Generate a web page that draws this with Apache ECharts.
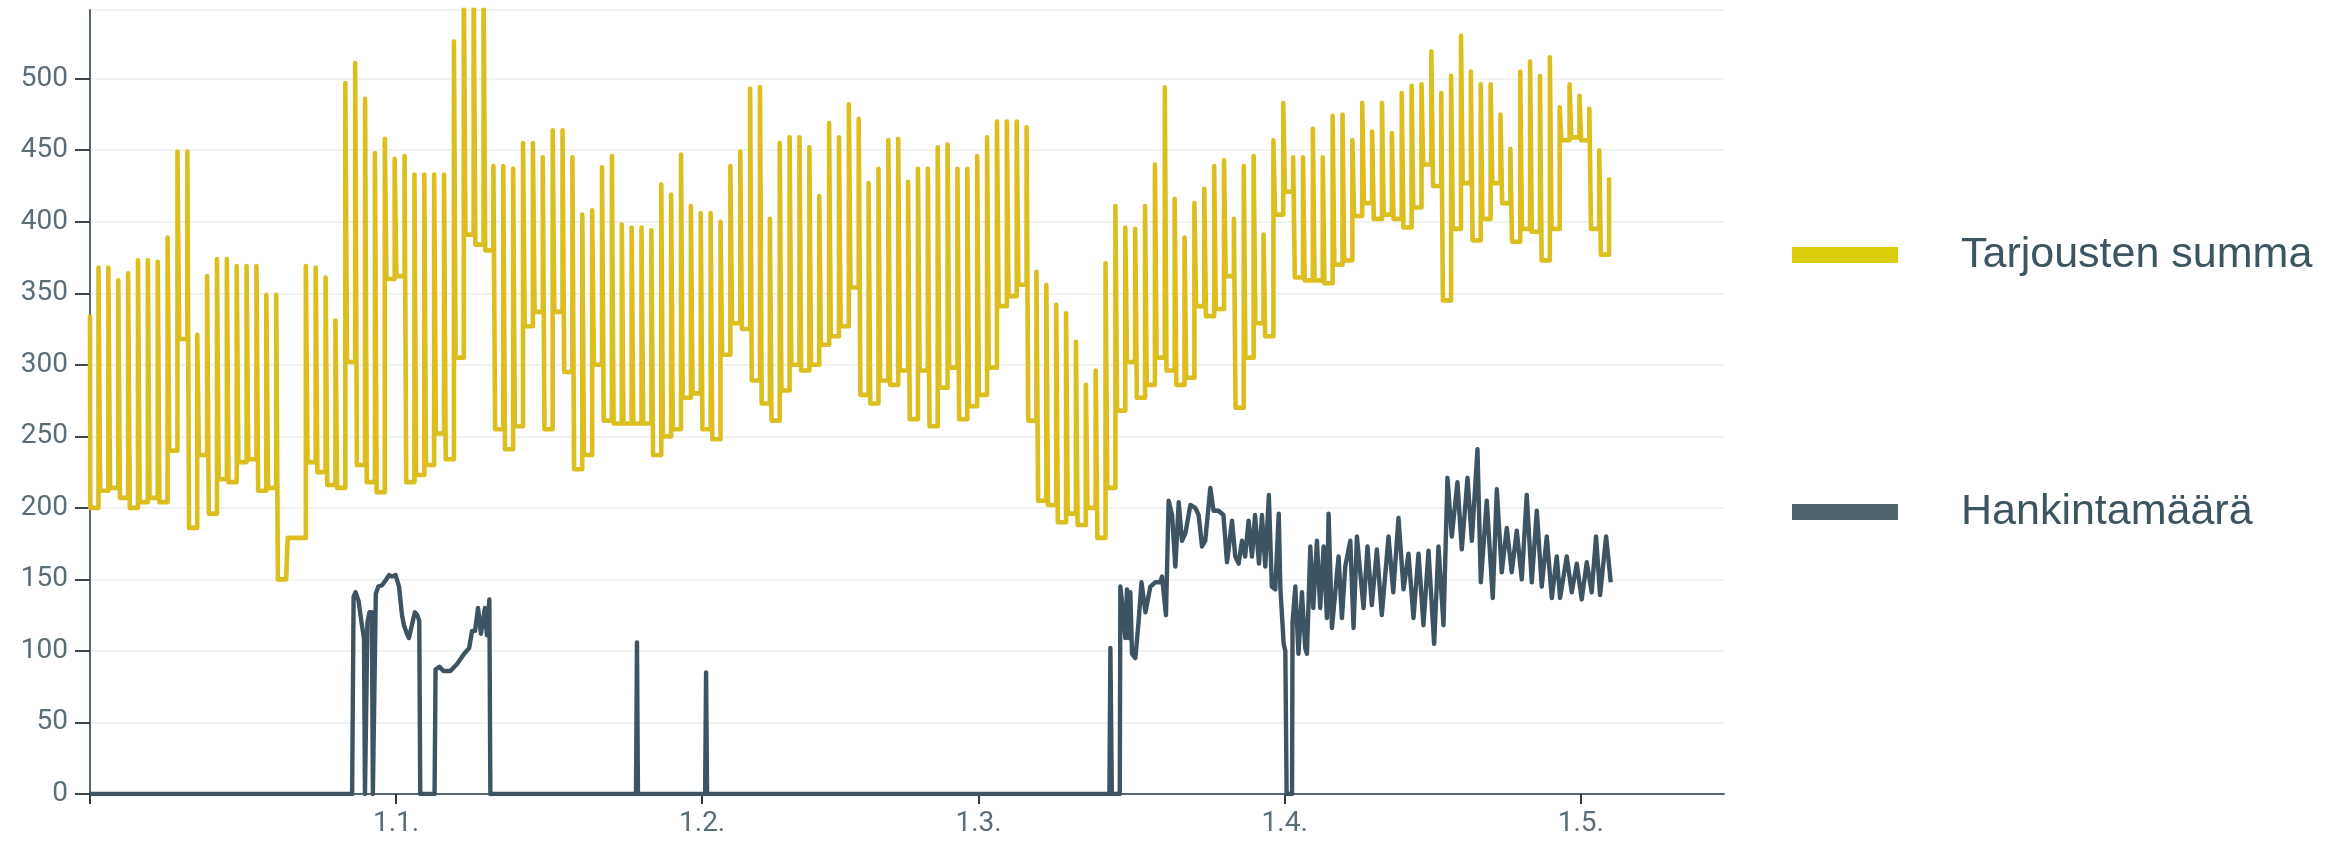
<!DOCTYPE html>
<html><head><meta charset="utf-8">
<script src="https://cdn.jsdelivr.net/npm/echarts@6/dist/echarts.min.js"></script>
<style>html,body{margin:0;padding:0;background:#fff}#c{width:2343px;height:842px}</style>
</head><body><div id="c"></div>
<script>
// ---- data ----
const seriesNames = ['Tarjousten summa', 'Hankintamäärä'];
const startDate = '2022-12-01';
const tickDates = ['2023-01-01', '2023-02-01', '2023-03-01', '2023-04-01', '2023-05-01'];
const tickLabels = ['1.1.', '1.2.', '1.3.', '1.4.', '1.5.'];

// Tarjousten summa: first value, then per day (from 1.12.) the base level and the daily peak
const tarjStart = 335;
const tarjLow = [200,212,214,207,200,204,207,204,240,318,186,237,196,220,218,232,234,212,214,150,
  179,179,232,225,216,214,302,230,218,211,360,362,218,223,230,252,234,305,391,384,
  380,255,241,257,327,337,255,337,295,227,237,300,261,259,259,259,259,237,250,255,
  277,280,255,248,307,329,325,289,273,261,282,300,296,300,314,320,327,354,279,273,
  289,286,296,262,296,257,284,298,262,271,279,298,341,348,356,261,205,202,190,196,
  188,200,179,214,268,302,277,286,305,296,286,291,341,334,339,362,270,305,329,320,
  405,421,361,359,359,357,370,373,404,413,402,405,402,396,410,440,425,345,395,427,
  387,402,427,413,386,395,393,373,395,457,459,457,395,377];
const tarjPeak = [368,368,359,364,373,373,372,389,449,449,321,362,374,374,369,369,369,349,349,150,
  179,369,368,361,331,497,511,486,448,458,444,446,433,433,433,433,526,570,570,570,
  439,439,437,455,455,445,464,464,445,405,408,438,446,398,396,396,394,426,419,447,
  411,406,406,400,439,449,493,494,402,455,459,459,452,418,469,459,482,472,427,437,
  457,458,428,437,437,452,454,437,437,446,459,470,470,470,466,365,356,342,336,316,
  286,296,371,411,396,395,411,440,494,416,389,413,423,439,443,402,439,446,391,457,
  483,445,445,465,445,474,475,457,483,463,483,462,490,495,496,519,490,502,530,505,
  496,496,475,451,505,512,502,515,480,496,488,479,450,431];

// Hankintamäärä: day offset from 1.12. and value
const hankDays = [0,26.55,26.7,26.9,27.2,27.5,27.75,27.85,28.0,28.1,28.3,28.55,28.65,28.85,28.95,29.2,29.6,30.0,30.3,30.6,
  30.95,31.3,31.6,31.8,32.1,32.3,32.6,32.9,33.15,33.35,33.45,
  34.9,35.0,35.4,35.8,36.5,37.2,37.9,38.4,38.7,39.0,39.3,39.6,40.0,40.2,40.45,40.55,
  55.3,55.4,55.5,62.3,62.4,62.5,103.25,103.35,103.5,
  104.3,104.36,104.7,104.86,105.03,105.2,105.37,105.54,105.88,106.2,106.5,106.9,107.4,107.9,108.4,108.58,108.98,
  109.25,109.6,109.93,110.27,110.6,110.94,111.45,111.95,112.29,112.63,112.96,113.47,113.8,114.3,114.8,115.16,
  115.67,116.0,116.34,116.68,117.0,117.35,117.69,118.0,118.4,118.7,119.04,119.4,119.7,120.05,120.4,120.56,
  120.9,121.07,121.2,121.75,121.8,122.08,122.4,122.75,123.09,123.26,123.6,123.9,124.27,124.6,124.95,125.28,
  125.45,125.79,126.13,126.46,126.8,127.14,127.65,127.98,128.32,128.99,129.39,129.83,130.34,130.84,131.52,
  132.0,132.53,133.04,133.54,134.05,134.56,135.06,135.57,136.14,136.58,137.09,137.49,137.93,138.5,138.94,
  139.52,139.96,140.53,140.87,141.47,142.08,142.49,142.99,143.5,144.0,144.51,145.02,145.52,146.03,146.54,
  147.04,147.55,148.06,148.56,148.9,149.57,150.08,150.59,151.09,151.6,152.1,152.54,152.95,153.56,154.03];
const hankValues = [0,0,138,141,135,120,109,0,0,120,127,127,0,0,140,145,146,150,153,152,
  153,145,125,118,112,109,118,127,125,121,0,
  0,87,89,86,86,91,98,102,114,114,130,112,130,111,136,0,
  0,106,0,0,85,0,0,102,0,
  0,145,123,109,143,109,141,98,95,120,148,127,145,148,148,152,125,
  205,195,159,204,177,182,202,200,195,173,177,214,198,198,195,162,
  191,166,161,177,166,191,166,195,161,195,159,209,145,143,196,145,
  105,100,0,0,120,145,98,141,102,98,173,130,177,130,173,123,
  196,116,141,166,123,159,177,116,180,130,173,132,171,125,180,
  141,193,143,168,123,168,118,170,105,173,118,221,180,218,171,
  221,177,241,148,205,137,213,155,186,155,184,150,209,148,198,
  145,180,137,166,137,166,141,161,136,162,141,180,139,180,148];

// ---- build ----
const DAY = 86400000;
const t0 = Date.parse(startDate + 'T00:00:00Z');
const dayOf = s => (Date.parse(s + 'T00:00:00Z') - t0) / DAY;
const tickDays = tickDates.map(dayOf);

const tarjData = [[0, tarjStart]];
tarjLow.forEach((v, i) => {
  tarjData.push([i + 0.03, v]);
  tarjData.push([i + 0.86, tarjPeak[i]]);
});
const hankData = hankDays.map((d, i) => [d, hankValues[i]]);

const axisColor = '#56676f';
const labelColor = '#5b6d77';
const chart = echarts.init(document.getElementById('c'));
chart.setOption({
  animation: false,
  backgroundColor: '#ffffff',
  grid: { left: 90, right: 619, top: 10, bottom: 48 },
  legend: {
    orient: 'vertical', left: 1787, top: 225,
    itemWidth: 106, itemHeight: 16, itemGap: 207, icon: 'rect',
    textStyle: { fontFamily: 'Liberation Sans', fontSize: 43, color: '#3d5461', lineHeight: 50, padding: [0, 0, 0, 58] },
    data: [
      { name: seriesNames[0], itemStyle: { color: '#dccd0a' } },
      { name: seriesNames[1], itemStyle: { color: '#51636c' } }
    ]
  },
  xAxis: {
    type: 'value', min: 0, max: 165.5,
    axisLine: { show: true, lineStyle: { color: axisColor, width: 2 } },
    axisTick: { show: true, length: 10, lineStyle: { color: '#333a3e', width: 2 }, customValues: [0].concat(tickDays) },
    axisLabel: {
      customValues: tickDays, margin: 16, color: labelColor, fontFamily: 'Roboto', fontSize: 28,
      formatter: v => { const k = tickDays.indexOf(v); return k >= 0 ? tickLabels[k] : ''; }
    },
    splitLine: { show: false }
  },
  yAxis: {
    type: 'value', min: 0, max: 548, interval: 50,
    axisLine: { show: true, lineStyle: { color: axisColor, width: 2 } },
    axisTick: { show: true, length: 15, lineStyle: { color: '#3c4549', width: 2 } },
    axisLabel: { showMaxLabel: false, margin: 22, color: labelColor, fontFamily: 'Roboto', fontSize: 28 },
    splitLine: { show: true, lineStyle: { color: '#f1f3f3', width: 2 } }
  },
  series: [
    {
      name: seriesNames[0], type: 'line', step: 'end', showSymbol: false, data: tarjData,
      itemStyle: { color: '#dcbf1f' }, lineStyle: { color: '#dcbf1f', width: 4.6, join: 'round' }, z: 2
    },
    {
      name: seriesNames[1], type: 'line', showSymbol: false, data: hankData,
      itemStyle: { color: '#3f5462' }, lineStyle: { color: '#3f5462', width: 4.4, join: 'round' }, z: 3
    }
  ]
});
</script>
</body></html>
